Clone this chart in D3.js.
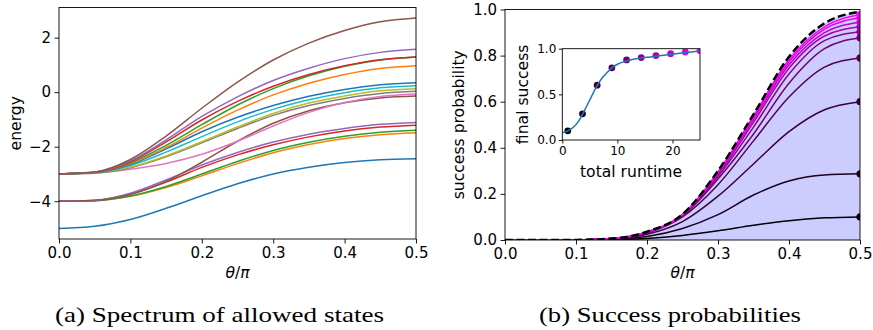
<!DOCTYPE html>
<html>
<head>
<meta charset="utf-8">
<script src="https://cdn.jsdelivr.net/npm/d3@7"></script>
<style>
  body { margin: 0; background: #fff; }
  svg text { fill: #000; }
  .caption { font-family: "Liberation Serif", "Times New Roman", Times, serif; }
</style>
</head>
<body>
<svg id="chart" width="873" height="330"></svg>
<script>
// theta / pi sample points shared by both panels
const thetaGrid = [0, 0.05, 0.1, 0.15, 0.2, 0.25, 0.3, 0.35, 0.4, 0.45, 0.5];

// (a) energy levels, listed in colour-cycle order
const level00 = [-5, -4.92, -4.67, -4.26, -3.80, -3.36, -3.00, -2.75, -2.58, -2.48, -2.44];
const level01 = [-4, -3.98, -3.82, -3.50, -3.07, -2.62, -2.22, -1.92, -1.70, -1.56, -1.49];
const level02 = [-4, -3.98, -3.81, -3.46, -3.00, -2.54, -2.14, -1.84, -1.62, -1.47, -1.40];
const level03 = [-4, -3.97, -3.74, -3.30, -2.76, -2.30, -1.93, -1.64, -1.42, -1.28, -1.21];
const level04 = [-4, -3.97, -3.71, -3.22, -2.67, -2.21, -1.83, -1.54, -1.33, -1.18, -1.11];
const level05 = [-4, -3.96, -3.75, -3.27, -2.57, -1.80, -1.14, -0.68, -0.39, -0.21, -0.14];
const level06 = [-3, -2.96, -2.83, -2.62, -2.28, -1.80, -1.24, -0.74, -0.38, -0.16, -0.07];
const level07 = [-3, -2.97, -2.77, -2.37, -1.86, -1.33, -0.85, -0.49, -0.23, -0.05, 0.03];
const level08 = [-3, -2.96, -2.75, -2.34, -1.82, -1.28, -0.78, -0.40, -0.14, 0.05, 0.13];
const level09 = [-3, -2.96, -2.69, -2.20, -1.63, -1.09, -0.63, -0.28, -0.02, 0.16, 0.24];
const level10 = [-3, -2.95, -2.65, -2.08, -1.45, -0.92, -0.49, -0.15, 0.10, 0.27, 0.35];
const level11 = [-3, -2.95, -2.62, -2.03, -1.32, -0.66, -0.10, 0.33, 0.65, 0.87, 0.97];
const level12 = [-3, -2.95, -2.59, -1.95, -1.19, -0.47, 0.13, 0.60, 0.95, 1.18, 1.29];
const level13 = [-3, -2.94, -2.55, -1.82, -1.02, -0.34, 0.22, 0.65, 0.97, 1.19, 1.29];
const level14 = [-3, -2.94, -2.52, -1.75, -0.89, -0.17, 0.43, 0.88, 1.23, 1.46, 1.57];
const level15 = [-3, -2.93, -2.47, -1.61, -0.59, 0.37, 1.18, 1.80, 2.26, 2.58, 2.72];
const spectrum = [level00, level01, level02, level03, level04, level05, level06, level07,
                  level08, level09, level10, level11, level12, level13, level14, level15];

// (b) success probability for each total runtime
const runtimes = [1, 3.67, 6.33, 9, 11.67, 14.33, 17, 19.67, 22.33, 25];
const success01 = [0, 0, 0, 0.002, 0.007, 0.020, 0.040, 0.064, 0.084, 0.096, 0.100];
const success02 = [0, 0, 0, 0.003, 0.015, 0.050, 0.110, 0.195, 0.256, 0.282, 0.287];
const success03 = [0, 0, 0.0005, 0.004, 0.025, 0.080, 0.190, 0.330, 0.470, 0.565, 0.600];
const success04 = [0, 0, 0.0005, 0.005, 0.030, 0.100, 0.240, 0.430, 0.620, 0.750, 0.790];
const success05 = [0, 0, 0.0005, 0.005, 0.032, 0.105, 0.265, 0.460, 0.680, 0.830, 0.877];
const success06 = [0, 0, 0.0005, 0.005, 0.033, 0.107, 0.275, 0.490, 0.720, 0.865, 0.903];
const success07 = [0, 0, 0.0005, 0.006, 0.034, 0.108, 0.283, 0.510, 0.745, 0.885, 0.925];
const success08 = [0, 0, 0.0005, 0.006, 0.034, 0.109, 0.288, 0.522, 0.760, 0.900, 0.945];
const success09 = [0, 0, 0.0005, 0.006, 0.035, 0.110, 0.292, 0.532, 0.772, 0.915, 0.964];
const success10 = [0, 0, 0.0005, 0.006, 0.035, 0.110, 0.295, 0.538, 0.782, 0.925, 0.978];
const successCurves = [success01, success02, success03, success04, success05,
                       success06, success07, success08, success09, success10];
const adiabatic = [0, 0, 0.0005, 0.006, 0.036, 0.112, 0.300, 0.545, 0.795, 0.940, 0.990];

// inset: final success vs runtime, plus the smooth fit
const finalSuccess = [0.100, 0.287, 0.600, 0.790, 0.877, 0.903, 0.925, 0.945, 0.964, 0.978];
const fitRuntime = [0, 1, 2, 3, 4, 5, 6, 7, 8, 9, 10, 12, 14, 16, 18, 20, 22, 25];
const fitSuccess = [0.08, 0.10, 0.14, 0.21, 0.32, 0.44, 0.56, 0.66, 0.73, 0.79, 0.83,
                    0.87, 0.895, 0.91, 0.925, 0.94, 0.955, 0.975];

// tick values
const xTicks = [0, 0.1, 0.2, 0.3, 0.4, 0.5];
const energyTicks = [-4, -2, 0, 2];
const successTicks = [0, 0.2, 0.4, 0.6, 0.8, 1.0];
const insetXTicks = [0, 10, 20];
const insetYTicks = [0, 0.5, 1.0];

const svg = d3.select("#chart");
const tab10 = d3.schemeCategory10;
const runColor = i => d3.interpolateRgb("#000000", "#ff00ff")(i / (runtimes.length - 1));
const sans = "'DejaVu Sans', sans-serif";

function drawAxes(g, x, y, xt, yt, xfmt, yfmt, fs, tlen, pad) {
  const [x0, x1] = x.range();
  const [y1, y0] = y.range();
  const bottom = g.append("g")
    .attr("transform", "translate(0," + y1 + ")")
    .call(d3.axisBottom(x).tickValues(xt).tickFormat(xfmt).tickSize(tlen).tickPadding(pad).tickSizeOuter(0));
  const left = g.append("g")
    .attr("transform", "translate(" + x0 + ",0)")
    .call(d3.axisLeft(y).tickValues(yt).tickFormat(yfmt).tickSize(tlen).tickPadding(pad).tickSizeOuter(0));
  [bottom, left].forEach(a => {
    a.select(".domain").remove();
    a.selectAll("line").attr("stroke", "#000").attr("stroke-width", 0.9);
    a.selectAll("text").style("font-family", sans).attr("font-size", fs).attr("fill", "#000");
  });
  g.append("rect")
    .attr("x", x0).attr("y", y0).attr("width", x1 - x0).attr("height", y1 - y0)
    .attr("fill", "none").attr("stroke", "#000").attr("stroke-width", 0.9);
}

function label(g, text, size) {
  return g.append("text").style("font-family", sans).attr("font-size", size)
    .attr("text-anchor", "middle").text(text);
}

function thetaLabel(g, cx, y) {
  const t = label(g, null, 15.5).attr("x", cx).attr("y", y);
  t.append("tspan").attr("font-style", "italic").text("θ");
  t.append("tspan").text("/");
  t.append("tspan").attr("font-style", "italic").text("π");
}

// ---------- (a) spectrum ----------
const gA = svg.append("g");
const xA = d3.scaleLinear().domain([0, 0.5]).range([59, 416]);
const eMin = d3.min(spectrum, d => d3.min(d)), eMax = d3.max(spectrum, d => d3.max(d));
const ePad = (eMax - eMin) * 0.05;
const yA = d3.scaleLinear().domain([eMin - ePad, eMax + ePad]).range([239, 7.5]);

const lineA = d3.line()
  .x((d, i) => xA(thetaGrid[i]))
  .y(d => yA(d))
  .curve(d3.curveMonotoneX);

gA.selectAll(".level")
  .data(spectrum)
  .enter().append("path")
  .attr("class", "level")
  .attr("fill", "none")
  .attr("stroke", (d, i) => tab10[i % 10])
  .attr("stroke-width", 1.5)
  .attr("d", lineA);

drawAxes(gA, xA, yA, xTicks, energyTicks, d3.format(".1f"), d3.format("d"), 15, 4.5, 3.5);
thetaLabel(gA, 237.5, 278);
label(gA, "energy", 15.6)
  .attr("transform", "translate(20.5," + (7.5 + 239) / 2 + ") rotate(-90)");

// ---------- (b) success probabilities ----------
const gB = svg.append("g");
const xB = d3.scaleLinear().domain([0, 0.5]).range([505, 860]);
const yB = d3.scaleLinear().domain([0, 1]).range([240, 9.5]);

svg.append("clipPath").attr("id", "clipB")
  .append("rect").attr("x", 505).attr("y", 9.5).attr("width", 355).attr("height", 230.5);

const plotB = gB.append("g").attr("clip-path", "url(#clipB)");

plotB.append("path")
  .datum(adiabatic)
  .attr("fill", "#ccccff")
  .attr("d", d3.area()
    .x((d, i) => xB(thetaGrid[i]))
    .y0(yB(0))
    .y1(d => yB(d))
    .curve(d3.curveMonotoneX));

const lineB = d3.line()
  .x((d, i) => xB(thetaGrid[i]))
  .y(d => yB(d))
  .curve(d3.curveMonotoneX);

plotB.selectAll(".run")
  .data(successCurves)
  .enter().append("path")
  .attr("class", "run")
  .attr("fill", "none")
  .attr("stroke", (d, i) => runColor(i))
  .attr("stroke-width", 1.5)
  .attr("d", lineB);

plotB.append("path")
  .datum(adiabatic)
  .attr("fill", "none")
  .attr("stroke", "#000")
  .attr("stroke-width", 2.5)
  .attr("stroke-dasharray", "8,3.5")
  .attr("d", lineB);

plotB.selectAll(".end")
  .data(successCurves)
  .enter().append("circle")
  .attr("cx", xB(0.5))
  .attr("cy", d => yB(d[d.length - 1]))
  .attr("r", 3.6)
  .attr("fill", (d, i) => runColor(i));

drawAxes(gB, xB, yB, xTicks, successTicks, d3.format(".1f"), d3.format(".1f"), 15, 4.5, 3.5);
thetaLabel(gB, 682.5, 278);
label(gB, "success probability", 15.6)
  .attr("transform", "translate(464," + (9.5 + 240) / 2 + ") rotate(-90)");

// ---------- inset ----------
const gI = svg.append("g");
const xI = d3.scaleLinear().domain([0, 25]).range([562.3, 700]);
const yI = d3.scaleLinear().domain([0, 1]).range([140, 48.7]);

gI.append("rect").attr("x", 562.3).attr("y", 48.7).attr("width", 137.7).attr("height", 91.3).attr("fill", "#fff");
svg.append("clipPath").attr("id", "clipI")
  .append("rect").attr("x", 562.3).attr("y", 48.7).attr("width", 137.7).attr("height", 91.3);
const plotI = gI.append("g").attr("clip-path", "url(#clipI)");

plotI.selectAll(".pt")
  .data(finalSuccess)
  .enter().append("circle")
  .attr("cx", (d, i) => xI(runtimes[i]))
  .attr("cy", d => yI(d))
  .attr("r", 3.4)
  .attr("fill", (d, i) => runColor(i));

plotI.append("path")
  .datum(fitSuccess)
  .attr("fill", "none")
  .attr("stroke", tab10[0])
  .attr("stroke-width", 1.5)
  .attr("d", d3.line()
    .x((d, i) => xI(fitRuntime[i]))
    .y(d => yI(d))
    .curve(d3.curveMonotoneX));

drawAxes(gI, xI, yI, insetXTicks, insetYTicks, d3.format("d"), d3.format(".1f"), 12, 3.5, 2.5);
label(gI, "total runtime", 15.6).attr("x", 631).attr("y", 176.5);
label(gI, "final success", 15.6)
  .attr("transform", "translate(527.5," + (48.7 + 140) / 2 + ") rotate(-90)");

// ---------- captions ----------
svg.append("text")
  .attr("class", "caption")
  .attr("x", 55).attr("y", 322)
  .attr("font-size", 22)
  .attr("textLength", 329).attr("lengthAdjust", "spacingAndGlyphs")
  .text("(a) Spectrum of allowed states");
svg.append("text")
  .attr("class", "caption")
  .attr("x", 539).attr("y", 322)
  .attr("font-size", 22)
  .attr("textLength", 262).attr("lengthAdjust", "spacingAndGlyphs")
  .text("(b) Success probabilities");
</script>
</body>
</html>
